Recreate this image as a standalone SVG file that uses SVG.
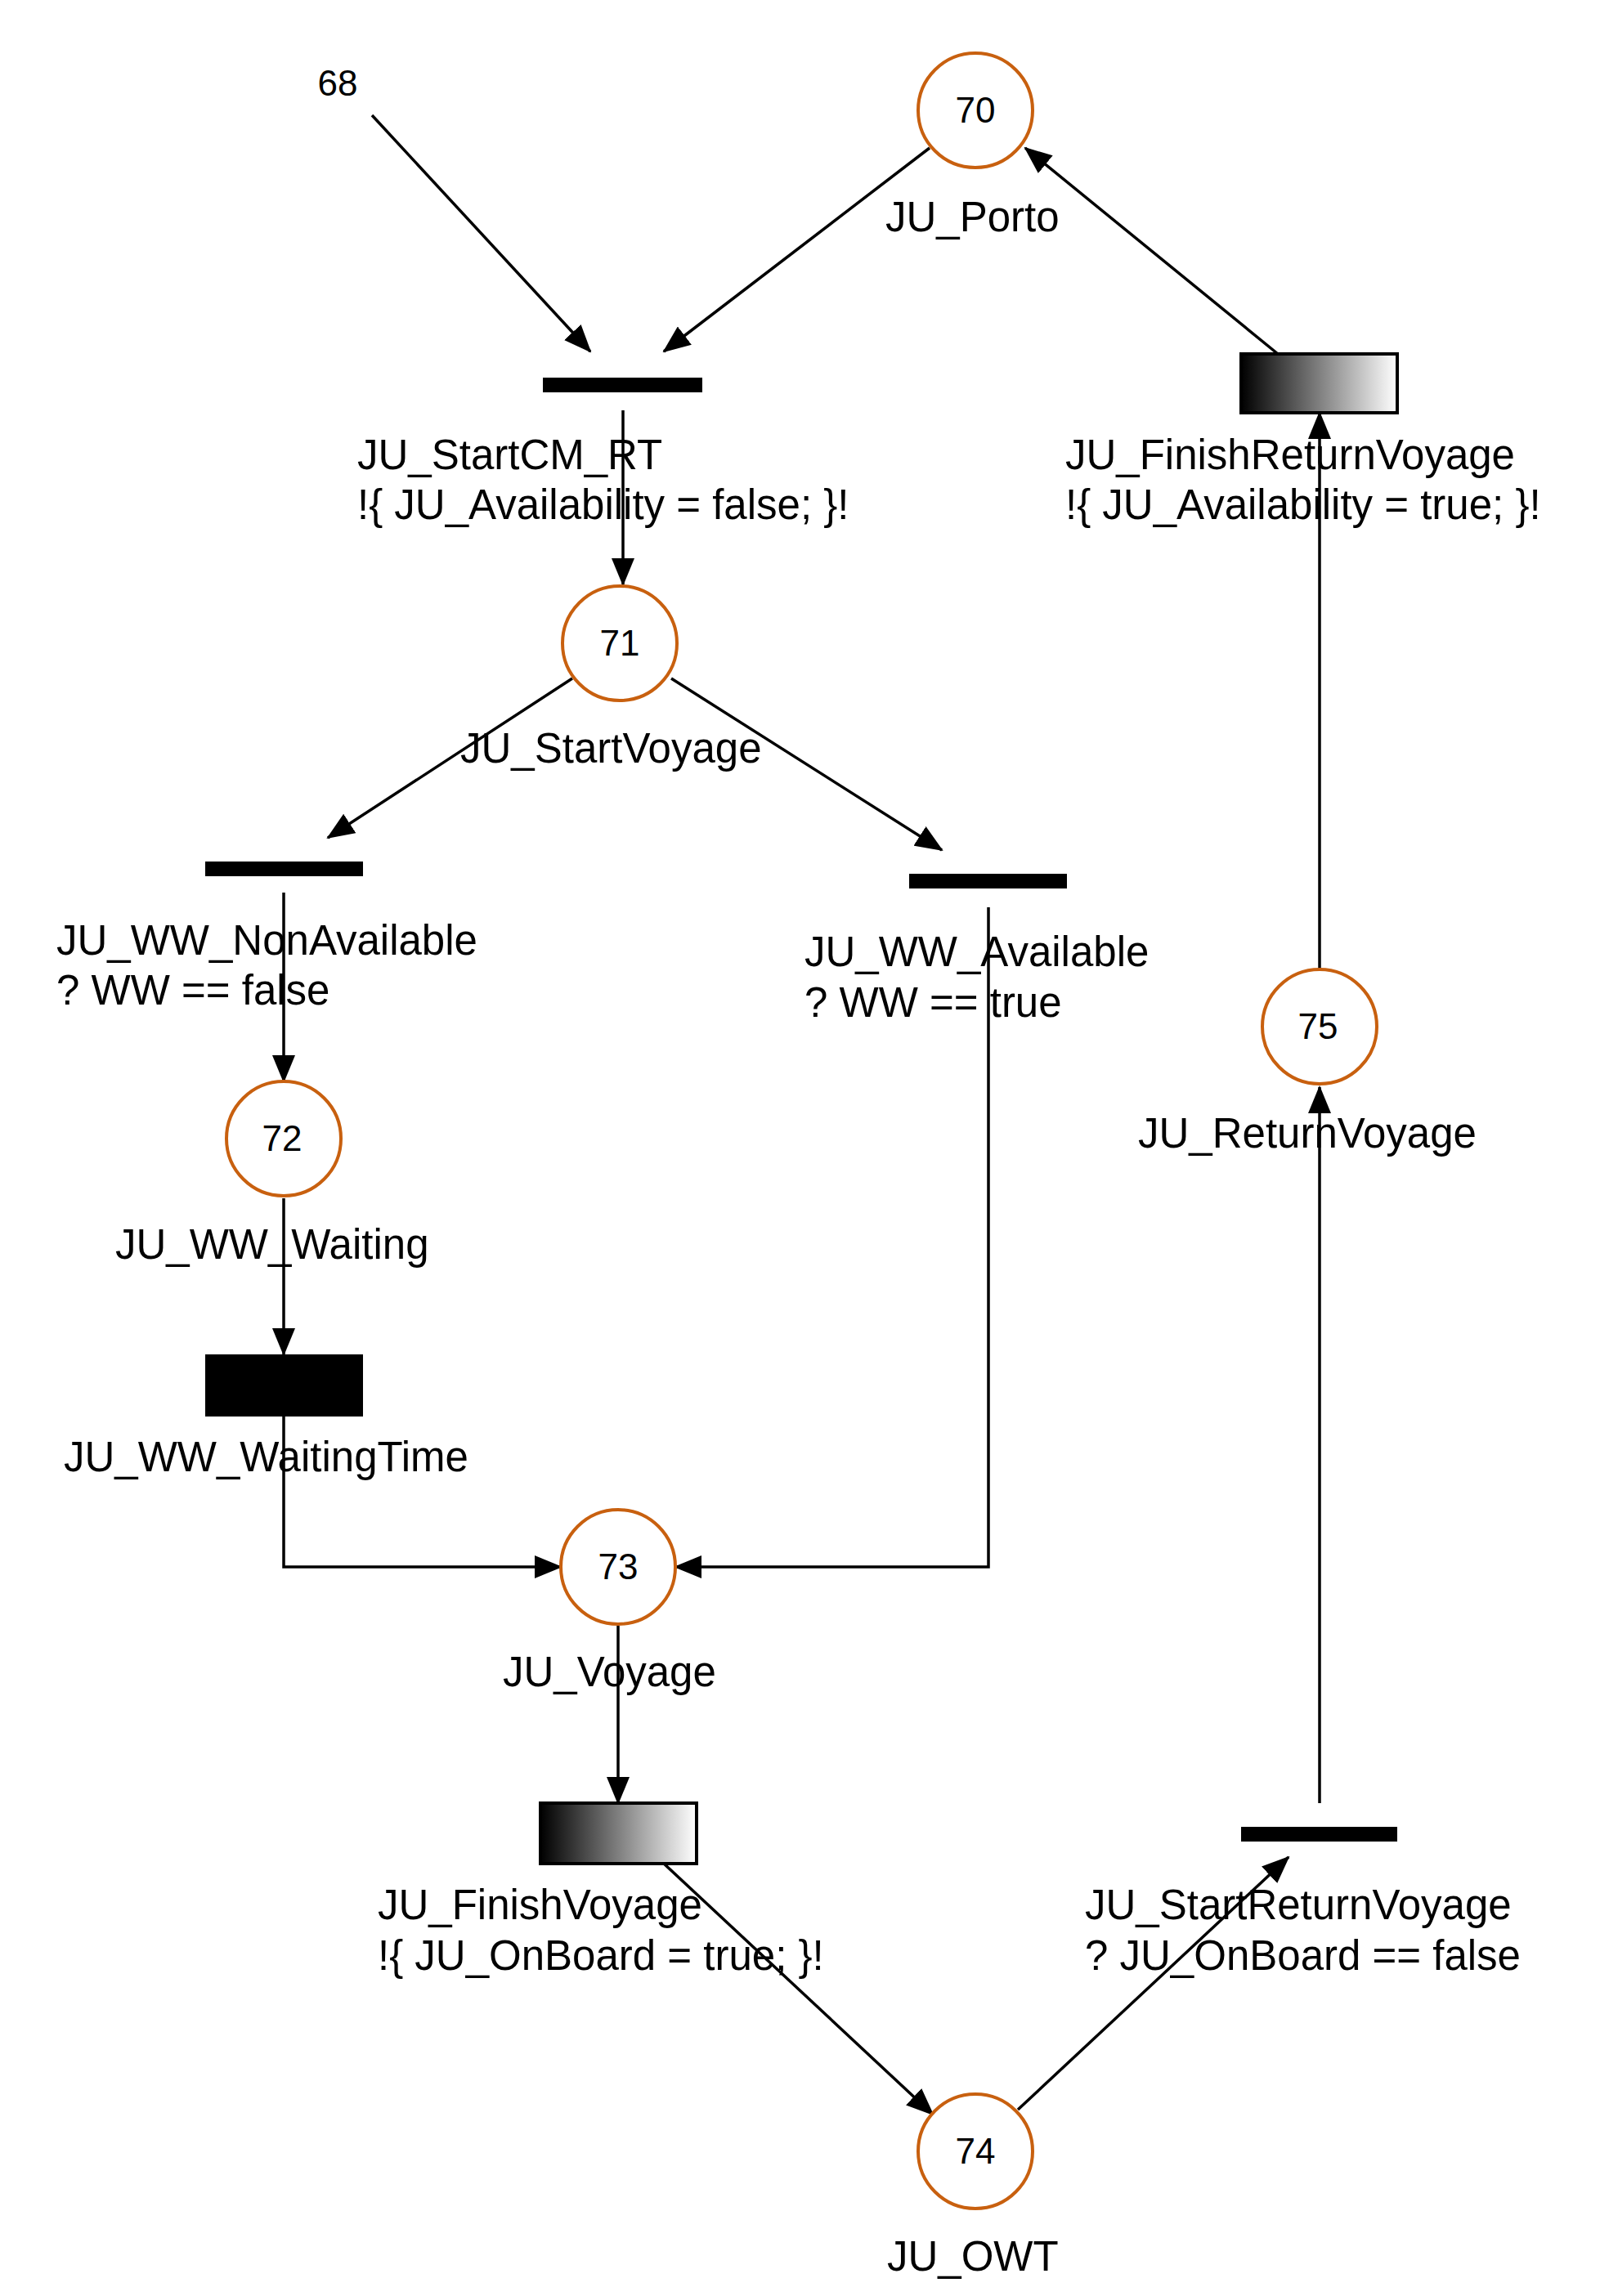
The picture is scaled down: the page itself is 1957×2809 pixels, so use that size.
<svg xmlns="http://www.w3.org/2000/svg" width="1957" height="2809" viewBox="0 0 1957 2809">
<style>
text{font-family:"Liberation Sans",Arial,sans-serif;fill:#000}
.lbl{font-size:51px}
.num{font-size:44px;text-anchor:middle}
.place{fill:#fff;stroke:#c8600f;stroke-width:4}
.arc{fill:none;stroke:#000;stroke-width:3.5}
</style>
<defs>
<marker id="ah" markerUnits="userSpaceOnUse" markerWidth="34" markerHeight="28" refX="32" refY="14" orient="auto"><path d="M0,0 L34,14 L0,28 Z" fill="#000"/></marker>
<linearGradient id="gr" x1="0" y1="0" x2="1" y2="0"><stop offset="0" stop-color="#000"/><stop offset="1" stop-color="#fff"/></linearGradient>
</defs>
<rect width="1957" height="2809" fill="#fff"/>
<g id="connectors">
<line class="arc" x1="455" y1="141" x2="722" y2="430" marker-end="url(#ah)"/>
<line class="arc" x1="1137" y1="181" x2="812" y2="430" marker-end="url(#ah)"/>
<line class="arc" x1="1563" y1="433" x2="1254" y2="181" marker-end="url(#ah)"/>
<line class="arc" x1="762" y1="502" x2="762" y2="715" marker-end="url(#ah)"/>
<line class="arc" x1="700" y1="830" x2="401" y2="1025" marker-end="url(#ah)"/>
<line class="arc" x1="821" y1="830" x2="1152" y2="1040" marker-end="url(#ah)"/>
<line class="arc" x1="347" y1="1092" x2="347" y2="1323" marker-end="url(#ah)"/>
<line class="arc" x1="347" y1="1466" x2="347" y2="1657" marker-end="url(#ah)"/>
<polyline class="arc" points="347,1733 347,1917 686,1917" marker-end="url(#ah)"/>
<polyline class="arc" points="1209,1110 1209,1917 826,1917" marker-end="url(#ah)"/>
<line class="arc" x1="756" y1="1989" x2="756" y2="2206" marker-end="url(#ah)"/>
<line class="arc" x1="812" y1="2280" x2="1141" y2="2587" marker-end="url(#ah)"/>
<line class="arc" x1="1245" y1="2581" x2="1576" y2="2272" marker-end="url(#ah)"/>
<line class="arc" x1="1614" y1="2206" x2="1614" y2="1330" marker-end="url(#ah)"/>
<line class="arc" x1="1614" y1="1186" x2="1614" y2="505" marker-end="url(#ah)"/>
</g>
<g id="n68"><text class="num" x="413" y="117">68</text></g>
<g id="p70"><circle class="place" cx="1193" cy="135" r="70"/><text class="num" x="1193" y="150">70</text><text class="lbl" x="1083" y="283">JU_Porto</text></g>
<g id="p71"><circle class="place" cx="758" cy="787" r="70"/><text class="num" x="758" y="802">71</text><text class="lbl" x="563" y="933">JU_StartVoyage</text></g>
<g id="p72"><circle class="place" cx="347" cy="1393" r="70"/><text class="num" x="345" y="1408">72</text><text class="lbl" x="141" y="1540">JU_WW_Waiting</text></g>
<g id="p73"><circle class="place" cx="756" cy="1917" r="70"/><text class="num" x="756" y="1932">73</text><text class="lbl" x="615" y="2063">JU_Voyage</text></g>
<g id="p74"><circle class="place" cx="1193" cy="2632" r="70"/><text class="num" x="1193" y="2647">74</text><text class="lbl" x="1085" y="2778">JU_OWT</text></g>
<g id="p75"><circle class="place" cx="1614" cy="1256" r="70"/><text class="num" x="1612" y="1271">75</text><text class="lbl" x="1392" y="1404">JU_ReturnVoyage</text></g>
<g id="t_startcm"><rect x="664" y="462" width="195" height="18" fill="#000"/><text class="lbl" x="437" y="574">JU_StartCM_RT</text><text class="lbl" x="437" y="635">!{ JU_Availability = false; }!</text></g>
<g id="t_finishreturn"><rect x="1518" y="433" width="191" height="72" fill="url(#gr)" stroke="#000" stroke-width="4"/><text class="lbl" x="1303" y="574">JU_FinishReturnVoyage</text><text class="lbl" x="1303" y="635">!{ JU_Availability = true; }!</text></g>
<g id="t_nonavail"><rect x="251" y="1054" width="193" height="18" fill="#000"/><text class="lbl" x="69" y="1168">JU_WW_NonAvailable</text><text class="lbl" x="69" y="1229">? WW == false</text></g>
<g id="t_avail"><rect x="1112" y="1069" width="193" height="18" fill="#000"/><text class="lbl" x="984" y="1182">JU_WW_Available</text><text class="lbl" x="984" y="1244">? WW == true</text></g>
<g id="t_waitingtime"><rect x="251" y="1657" width="193" height="76" fill="#000"/><text class="lbl" x="78" y="1800">JU_WW_WaitingTime</text></g>
<g id="t_finishvoyage"><rect x="661" y="2206" width="191" height="74" fill="url(#gr)" stroke="#000" stroke-width="4"/><text class="lbl" x="462" y="2348">JU_FinishVoyage</text><text class="lbl" x="462" y="2410">!{ JU_OnBoard = true; }!</text></g>
<g id="t_startreturn"><rect x="1518" y="2235" width="191" height="18" fill="#000"/><text class="lbl" x="1327" y="2348">JU_StartReturnVoyage</text><text class="lbl" x="1327" y="2410">? JU_OnBoard == false</text></g>
</svg>
